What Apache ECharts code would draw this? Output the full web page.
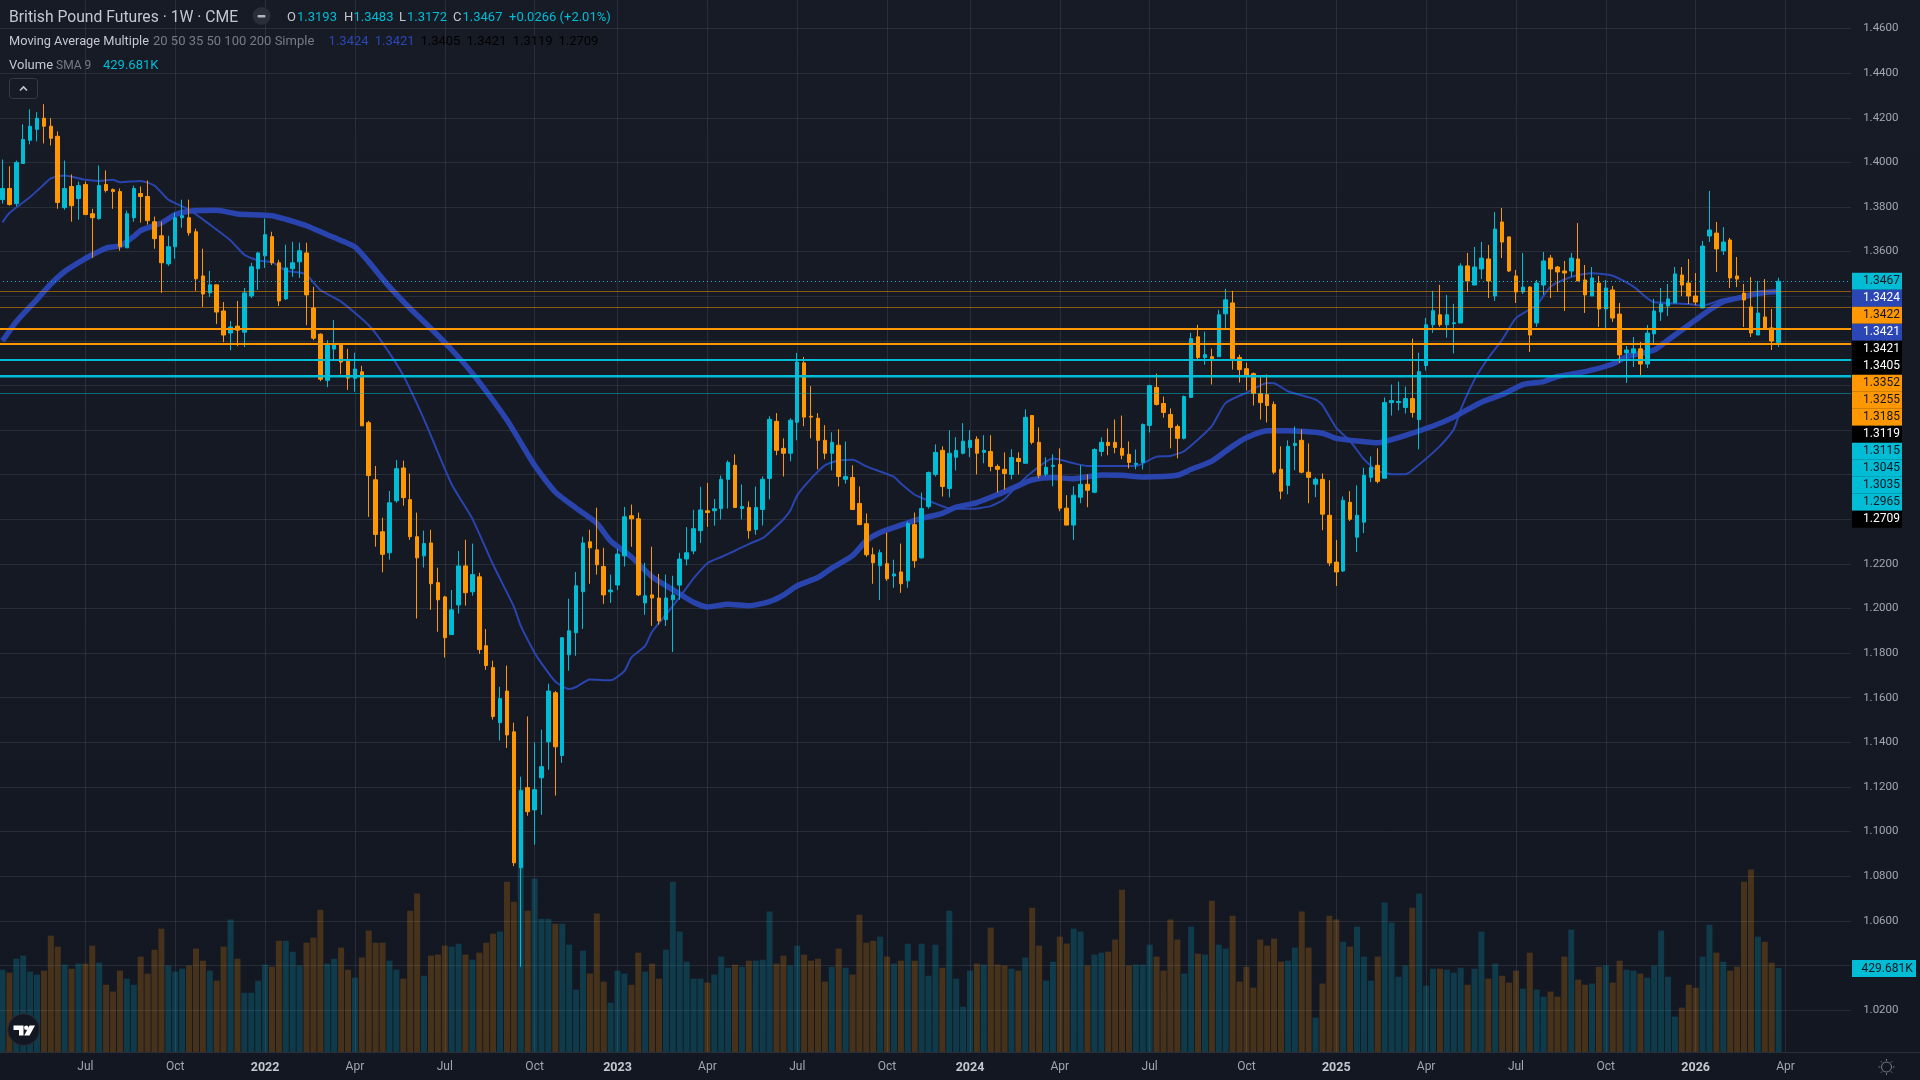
<!DOCTYPE html>
<html>
<head>
<meta charset="utf-8">
<title>British Pound Futures 1W</title>
<script src="https://cdn.jsdelivr.net/npm/echarts@6/dist/echarts.min.js"></script>
<style>html,body{margin:0;padding:0;background:#131722;overflow:hidden}#chart{width:1921px;height:1080px;margin-left:-1px}</style>
</head>
<body>
<div id="chart"></div>
<script>
// Weekly bars: [open, close, low, high]
const candles = [
[1.3833,1.3883,1.3815,1.4013],[1.3883,1.3811,1.3806,1.3982],[1.3815,1.4000,1.3803,1.4008],[1.3995,1.4103,1.3995,1.4171],[1.4099,1.4162,1.4081,1.4238],[1.4148,1.4198,1.4094,1.4225],[1.4198,1.4162,1.4085,1.4261],[1.4162,1.4108,1.4076,1.4198],[1.4117,1.3820,1.3792,1.4139],[1.3797,1.3883,1.3788,1.4008],
[1.3892,1.3806,1.3734,1.3946],[1.3838,1.3896,1.3743,1.3914],[1.3901,1.3766,1.3766,1.3914],[1.3770,1.3752,1.3572,1.3792],[1.3748,1.3896,1.3743,1.3986],[1.3901,1.3874,1.3865,1.3964],[1.3878,1.3869,1.3792,1.3883],[1.3869,1.3622,1.3604,1.3883],[1.3617,1.3770,1.3617,1.3784],[1.3752,1.3883,1.3734,1.3896],
[1.3860,1.3847,1.3730,1.3892],[1.3847,1.3739,1.3721,1.3919],[1.3734,1.3658,1.3613,1.3757],[1.3671,1.3550,1.3415,1.3734],[1.3545,1.3622,1.3536,1.3671],[1.3622,1.3752,1.3568,1.3775],[1.3752,1.3761,1.3707,1.3833],[1.3752,1.3684,1.3671,1.3833],[1.3689,1.3478,1.3424,1.3703],[1.3491,1.3410,1.3352,1.3613],
[1.3415,1.3451,1.3397,1.3514],[1.3451,1.3329,1.3275,1.3451],[1.3334,1.3226,1.3194,1.3374],[1.3235,1.3262,1.3158,1.3289],[1.3266,1.3248,1.3176,1.3379],[1.3239,1.3415,1.3172,1.3437],[1.3401,1.3532,1.3392,1.3550],[1.3523,1.3594,1.3428,1.3599],[1.3581,1.3676,1.3527,1.3748],[1.3667,1.3550,1.3540,1.3689],
[1.3550,1.3379,1.3356,1.3563],[1.3388,1.3527,1.3383,1.3631],[1.3523,1.3550,1.3487,1.3644],[1.3554,1.3604,1.3482,1.3640],[1.3594,1.3406,1.3270,1.3640],[1.3347,1.3212,1.3203,1.3442],[1.3230,1.3028,1.3019,1.3234],[1.3023,1.3181,1.2992,1.3203],[1.3163,1.3181,1.3113,1.3293],[1.3184,1.3105,1.3050,1.3190],
[1.3109,1.3033,1.2980,1.3164],[1.3032,1.3074,1.2972,1.3147],[1.3061,1.2819,1.2819,1.3088],[1.2833,1.2596,1.2411,1.2841],[1.2577,1.2332,1.2277,1.2639],[1.2344,1.2243,1.2162,1.2407],[1.2250,1.2474,1.2219,1.2527],[1.2483,1.2627,1.2474,1.2666],[1.2630,1.2497,1.2461,1.2663],[1.2488,1.2322,1.2308,1.2605],
[1.2322,1.2227,1.1955,1.2430],[1.2236,1.2291,1.2184,1.2349],[1.2294,1.2111,1.1994,1.2353],[1.2116,1.2039,1.1896,1.2183],[1.2052,1.1869,1.1780,1.2057],[1.1883,1.1994,1.1883,1.2083],[1.2016,1.2191,1.1977,1.2258],[1.2191,1.2071,1.2013,1.2308],[1.2075,1.2152,1.2057,1.2291],[1.2142,1.1816,1.1797,1.2160],
[1.1833,1.1744,1.1725,1.1908],[1.1735,1.1516,1.1502,1.1766],[1.1488,1.1596,1.1408,1.1649],[1.1630,1.1433,1.1375,1.1744],[1.1447,1.0860,1.0845,1.1488],[1.0838,1.1183,1.0394,1.1246],[1.1197,1.1089,1.1071,1.1516],[1.1097,1.1188,1.0941,1.1399],[1.1241,1.1291,1.1075,1.1457],[1.1402,1.1630,1.1277,1.1663],
[1.1622,1.1380,1.1161,1.1630],[1.1341,1.1869,1.1308,1.1871],[1.1793,1.1900,1.1721,1.2044],[1.1891,1.2102,1.1788,1.2164],[1.2075,1.2294,1.1908,1.2322],[1.2299,1.2272,1.2111,1.2353],[1.2263,1.2196,1.2152,1.2452],[1.2188,1.2061,1.2021,1.2272],[1.2075,1.2083,1.2025,1.2152],[1.2105,1.2244,1.2083,1.2268],
[1.2236,1.2411,1.2188,1.2455],[1.2416,1.2402,1.2277,1.2466],[1.2402,1.2061,1.2056,1.2430],[1.2025,1.2057,1.1972,1.2205],[1.2061,1.2047,1.1922,1.2277],[1.2047,1.1944,1.1927,1.2155],[1.1950,1.2047,1.1922,1.2152],[1.2039,1.2061,1.1805,1.2147],[1.2105,1.2222,1.2039,1.2250],[1.2222,1.2250,1.2193,1.2365],
[1.2258,1.2358,1.2243,1.2442],[1.2349,1.2442,1.2294,1.2546],[1.2438,1.2430,1.2366,1.2563],[1.2438,1.2447,1.2371,1.2491],[1.2448,1.2579,1.2399,1.2596],[1.2579,1.2655,1.2448,1.2664],[1.2642,1.2453,1.2453,1.2691],[1.2448,1.2457,1.2399,1.2556],[1.2453,1.2349,1.2313,1.2480],[1.2354,1.2453,1.2331,1.2547],
[1.2444,1.2579,1.2372,1.2592],[1.2583,1.2848,1.2489,1.2862],[1.2839,1.2709,1.2687,1.2876],[1.2718,1.2696,1.2592,1.2763],[1.2696,1.2844,1.2660,1.2853],[1.2835,1.3105,1.2754,1.3146],[1.3101,1.2858,1.2817,1.3128],[1.2862,1.2858,1.2763,1.2997],[1.2853,1.2754,1.2624,1.2876],[1.2754,1.2696,1.2669,1.2822],
[1.2696,1.2745,1.2619,1.2790],[1.2732,1.2592,1.2547,1.2804],[1.2579,1.2592,1.2560,1.2749],[1.2587,1.2444,1.2444,1.2642],[1.2471,1.2376,1.2376,1.2547],[1.2380,1.2241,1.2232,1.2426],[1.2241,1.2205,1.2111,1.2273],[1.2192,1.2250,1.2038,1.2264],[1.2201,1.2133,1.2124,1.2340],[1.2146,1.2155,1.2093,1.2219],
[1.2164,1.2111,1.2070,1.2291],[1.2124,1.2381,1.2093,1.2389],[1.2376,1.2214,1.2183,1.2430],[1.2227,1.2448,1.2223,1.2520],[1.2457,1.2610,1.2448,1.2614],[1.2601,1.2700,1.2592,1.2736],[1.2709,1.2547,1.2502,1.2727],[1.2538,1.2696,1.2498,1.2799],[1.2678,1.2709,1.2619,1.2768],[1.2696,1.2750,1.2691,1.2831],
[1.2722,1.2754,1.2678,1.2799],[1.2759,1.2696,1.2601,1.2772],[1.2700,1.2709,1.2651,1.2777],[1.2704,1.2637,1.2615,1.2777],[1.2637,1.2624,1.2520,1.2646],[1.2624,1.2605,1.2533,1.2700],[1.2601,1.2677,1.2579,1.2714],[1.2673,1.2659,1.2601,1.2700],[1.2651,1.2857,1.2651,1.2893],[1.2865,1.2745,1.2736,1.2868],
[1.2745,1.2597,1.2584,1.2812],[1.2602,1.2633,1.2593,1.2678],[1.2637,1.2642,1.2548,1.2691],[1.2646,1.2450,1.2436,1.2718],[1.2450,1.2374,1.2374,1.2508],[1.2374,1.2508,1.2307,1.2548],[1.2499,1.2557,1.2472,1.2642],[1.2557,1.2530,1.2454,1.2602],[1.2521,1.2713,1.2517,1.2718],[1.2704,1.2745,1.2682,1.2767],
[1.2745,1.2731,1.2687,1.2807],[1.2745,1.2722,1.2696,1.2847],[1.2718,1.2687,1.2669,1.2865],[1.2691,1.2655,1.2628,1.2749],[1.2646,1.2651,1.2624,1.2713],[1.2655,1.2825,1.2624,1.2830],[1.2821,1.3000,1.2789,1.3003],[1.2991,1.2915,1.2910,1.3053],[1.2919,1.2879,1.2856,1.2950],[1.2870,1.2812,1.2718,1.2897],
[1.2816,1.2763,1.2673,1.2825],[1.2763,1.2950,1.2758,1.2955],[1.2946,1.3210,1.2946,1.3236],[1.3218,1.3125,1.3116,1.3272],[1.3125,1.3138,1.3093,1.3241],[1.3129,1.3120,1.3004,1.3165],[1.3129,1.3317,1.3129,1.3339],[1.3321,1.3384,1.3250,1.3433],[1.3370,1.3120,1.3071,1.3424],[1.3125,1.3071,1.3013,1.3138],
[1.3075,1.3044,1.2977,1.3102],[1.3053,1.2964,1.2910,1.3058],[1.2964,1.2923,1.2847,1.3044],[1.2959,1.2910,1.2834,1.3049],[1.2915,1.2611,1.2602,1.2928],[1.2624,1.2526,1.2490,1.2727],[1.2552,1.2727,1.2512,1.2754],[1.2731,1.2740,1.2620,1.2816],[1.2754,1.2611,1.2606,1.2803],[1.2611,1.2588,1.2472,1.2740],
[1.2557,1.2579,1.2499,1.2588],[1.2579,1.2423,1.2351,1.2606],[1.2418,1.2204,1.2190,1.2575],[1.2208,1.2164,1.2101,1.2307],[1.2168,1.2485,1.2164,1.2502],[1.2476,1.2400,1.2392,1.2526],[1.2320,1.2418,1.2253,1.2552],[1.2387,1.2597,1.2338,1.2631],[1.2588,1.2633,1.2566,1.2682],[1.2642,1.2570,1.2561,1.2718],
[1.2584,1.2923,1.2584,1.2946],[1.2923,1.2932,1.2865,1.3004],[1.2923,1.2928,1.2888,1.3017],[1.2901,1.2941,1.2874,1.2995],[1.2941,1.2879,1.2856,1.3210],[1.2847,1.3062,1.2713,1.3147],[1.3089,1.3272,1.3067,1.3303],[1.3272,1.3335,1.3236,1.3424],[1.3317,1.3272,1.3263,1.3451],[1.3272,1.3317,1.3214,1.3406],
[1.3277,1.3281,1.3143,1.3366],[1.3280,1.3536,1.3280,1.3548],[1.3536,1.3468,1.3420,1.3594],[1.3450,1.3531,1.3450,1.3621],[1.3522,1.3571,1.3477,1.3643],[1.3567,1.3468,1.3392,1.3630],[1.3401,1.3701,1.3379,1.3778],[1.3733,1.3643,1.3571,1.3796],[1.3666,1.3513,1.3509,1.3667],[1.3491,1.3419,1.3370,1.3518],
[1.3419,1.3441,1.3410,1.3594],[1.3441,1.3226,1.3150,1.3445],[1.3280,1.3459,1.3262,1.3473],[1.3450,1.3558,1.3406,1.3598],[1.3571,1.3522,1.3392,1.3585],[1.3531,1.3509,1.3419,1.3536],[1.3513,1.3504,1.3334,1.3558],[1.3513,1.3571,1.3486,1.3594],[1.3567,1.3468,1.3468,1.3728],[1.3473,1.3406,1.3325,1.3540],
[1.3401,1.3482,1.3401,1.3531],[1.3459,1.3343,1.3262,1.3491],[1.3343,1.3437,1.3249,1.3473],[1.3428,1.3302,1.3285,1.3446],[1.3320,1.3137,1.3101,1.3370],[1.3146,1.3159,1.3011,1.3177],[1.3146,1.3164,1.3083,1.3217],[1.3164,1.3096,1.3038,1.3195],[1.3096,1.3235,1.3078,1.3271],[1.3231,1.3334,1.3181,1.3388],
[1.3329,1.3365,1.3289,1.3437],[1.3356,1.3388,1.3311,1.3455],[1.3370,1.3500,1.3370,1.3531],[1.3495,1.3450,1.3401,1.3531],[1.3459,1.3401,1.3365,1.3567],[1.3401,1.3374,1.3361,1.3504],[1.3347,1.3625,1.3347,1.3648],[1.3670,1.3697,1.3643,1.3872],[1.3683,1.3612,1.3509,1.3733],[1.3603,1.3643,1.3585,1.3710],
[1.3652,1.3482,1.3437,1.3661],[1.3491,1.3477,1.3441,1.3576],[1.3414,1.3383,1.3262,1.3455],[1.3352,1.3235,1.3217,1.3486],[1.3226,1.3325,1.3226,1.3468],[1.3307,1.3258,1.3258,1.3477],[1.3258,1.3199,1.3159,1.3343],[1.3193,1.3467,1.3172,1.3483]
];

// Weekly traded contracts, in thousands
const volumeK = [
421,406,477,493,411,396,416,595,539,447,426,452,452,544,457,344,309,416,375,344,488,401,523,631,442,411,426,442,529,467,416,365,539,677,477,303,303,365,447,436,569,569,513,442,559,585,728,452,477,534,421,380,483,621,559,559,467,421,375,723,810,390,493,498,544,539,554,498,472,508,559,605,616,871,769,1345,723,887,682,682,656,656,549,319,518,401,708,360,252,416,401,344,508,
411,452,375,523,871,616,462,375,375,355,396,488,431,447,436,467,467,472,718,452,493,442,544,498,467,477,360,436,529,431,396,702,559,569,590,488,452,467,554,467,554,390,549,431,723,375,232,416,452,447,636,447,442,426,416,483,738,544,365,462,590,554,631,616,442,498,508,513,575,830,442,447,447,549,488,416,677,575,401,641,503,498,774,549,529,697,360,436,329,575,544,580,462,
467,534,718,534,176,350,697,677,564,539,641,488,365,488,764,662,385,442,738,810,339,426,426,421,406,431,344,426,616,375,452,390,355,416,324,508,319,283,309,283,488,626,370,344,350,436,442,355,467,421,416,401,380,442,621,385,181,227,344,329,488,651,508,462,416,436,871,933,590,564,457,429.681
];

// Moving averages as [bar, value]
const fastMa = [
[0,1.3731],[1,1.3773],[4,1.3845],[6,1.3901],[7,1.3928],[9,1.3941],[12,1.3922],[14,1.3917],[16,1.3922],[17,1.3911],[20,1.3917],[22,1.3896],[24,1.3833],[27,1.3788],[30,1.3721],[33,1.3650],[35,1.3586],[37,1.3560],[39,1.3553],[41,1.3515],[43,1.3506],[44,1.3496],[46,1.3428],[49,1.3376],[53,1.3270],[55,1.3191],[58,1.3045],[61,1.2848],[65,1.2557],[68,1.2402],[71,1.2196],[74,1.2008],[75,1.1922],[77,1.1802],[78,1.1754],[80,1.1673],[82,1.1639],[83,1.1648],[85,1.1682],[88,1.1678],[90,1.1720],[91,1.1780],[93,1.1833],[94,1.1896],[97,1.2011],[99,1.2093],[100,1.2135],[102,1.2203],[104,1.2231],[106,1.2259],[108,1.2289],[110,1.2316],[111,1.2341],[113,1.2400],[114,1.2439],[115,1.2507],[117,1.2582],[119,1.2642],[121,1.2664],[123,1.2667],[125,1.2637],[129,1.2590],[130,1.2560],[132,1.2510],[134,1.2484],[137,1.2449],[140,1.2447],[143,1.2459],[145,1.2491],[147,1.2556],[149,1.2612],[152,1.2672],[155,1.2651],[157,1.2639],[164,1.2639],[167,1.2681],[169,1.2684],[171,1.2706],[173,1.2758],[175,1.2818],[177,1.2922],[180,1.2967],[183,1.3011],[184,1.3010],[186,1.2974],[190,1.2937],[191,1.2912],[193,1.2810],[195,1.2751],[197,1.2669],[199,1.2617],[201,1.2602],[203,1.2602],[204,1.2620],[208,1.2728],[210,1.2803],[211,1.2892],[213,1.3026],[215,1.3123],[217,1.3205],[219,1.3302],[222,1.3361],[224,1.3443],[226,1.3475],[228,1.3495],[230,1.3503],[233,1.3492],[236,1.3443],[238,1.3391],[239,1.3373],[244,1.3365],[246,1.3358],[249,1.3386],[252,1.3395],[255,1.3410],[257,1.3424]
];
const slowMa = [
[0,1.3200],[2,1.3286],[5,1.3386],[7,1.3455],[9,1.3511],[11,1.3551],[13,1.3586],[15,1.3616],[17,1.3626],[19,1.3668],[20,1.3695],[23,1.3728],[25,1.3766],[27,1.3781],[31,1.3785],[34,1.3769],[39,1.3761],[42,1.3736],[44,1.3716],[47,1.3676],[49,1.3650],[51,1.3621],[53,1.3554],[56,1.3442],[59,1.3345],[62,1.3255],[65,1.3160],[68,1.3054],[73,1.2845],[77,1.2642],[80,1.2522],[83,1.2450],[86,1.2382],[88,1.2303],[91,1.2231],[94,1.2142],[97,1.2085],[100,1.2028],[102,1.2007],[105,1.2019],[108,1.2012],[111,1.2031],[113,1.2060],[115,1.2102],[118,1.2139],[120,1.2181],[123,1.2237],[125,1.2304],[127,1.2341],[130,1.2374],[133,1.2404],[136,1.2427],[138,1.2454],[141,1.2475],[144,1.2511],[147,1.2551],[149,1.2577],[152,1.2587],[155,1.2582],[159,1.2599],[162,1.2597],[165,1.2590],[170,1.2597],[172,1.2624],[175,1.2661],[178,1.2728],[180,1.2766],[183,1.2797],[186,1.2797],[191,1.2786],[193,1.2763],[196,1.2751],[199,1.2743],[202,1.2766],[207,1.2818],[210,1.2858],[214,1.2925],[217,1.2959],[220,1.3004],[223,1.3017],[225,1.3040],[229,1.3062],[233,1.3096],[235,1.3129],[239,1.3159],[241,1.3204],[243,1.3249],[245,1.3294],[247,1.3338],[249,1.3376],[252,1.3398],[254,1.3413],[257,1.3421]
];

// Horizontal price levels
const lastClose = 1.3467;
const thinOrangeLevels = [1.3422, 1.3352];
const thickOrangeLevels = [1.3255, 1.3185];
const thickCyanLevels = [1.3115, 1.3045];
const thinCyanLevels = [1.3035, 1.2965];

// Time axis ticks: the bar each label sits on, and its text
const timeTickBars = [12,25,38,51,64,77,89,102,115,128,140,153,166,180,193,206,219,232,245,258];
const timeTickLabels = ['Jul','Oct','2022','Apr','Jul','Oct','2023','Apr','Jul','Oct','2024','Apr','Jul','Oct','2025','Apr','Jul','Oct','2026','Apr'];

// Stacked price tags in the scale gutter
const tagTexts = ['1.3467','1.3424','1.3422','1.3421','1.3421','1.3405','1.3352','1.3255','1.3185','1.3119','1.3115','1.3045','1.3035','1.2965','1.2709'];
const tagKinds = ['cyan','blue','orange','blue','black','black','orange','orange','orange','black','cyan','cyan','cyan','cyan','black'];

const CYAN = '#00bcd4', ORANGE = '#ff9800', BLUE = '#2b47b6', DARK = '#131722';
const FONT = 'Roboto, sans-serif';
const BAR_STEP = 6.911, SLOTS = 268;

const tickTextOfBar = {};
timeTickBars.forEach((b, k) => { tickTextOfBar[b] = timeTickLabels[k]; });
const slotNames = Array.from({ length: SLOTS }, (_, i) => String(i));
const isTick = (i) => tickTextOfBar[i] !== undefined;

const volumeBars = volumeK.map((v, i) => ({
  value: v,
  itemStyle: { color: candles[i] && candles[i][1] >= candles[i][0] ? 'rgba(0,188,212,0.22)' : 'rgba(255,152,0,0.22)' }
}));

const levelLine = (values, color, width, type) => values.map((v) => ({
  yAxis: v, lineStyle: { color, width, type: type || 'solid' }
}));

const tagFill = { cyan: CYAN, blue: BLUE, orange: ORANGE, black: '#000000' };
const tagInk = { cyan: DARK, blue: '#ffffff', orange: DARK, black: '#ffffff' };
const tagGraphics = [];
tagTexts.forEach((t, k) => {
  const cy = 281.3 + k * 17;
  tagGraphics.push({ type: 'rect', z: 60, shape: { x: 1852, y: cy - 8.5, width: 50, height: 17 }, style: { fill: tagFill[tagKinds[k]] } });
  tagGraphics.push({ type: 'text', z: 61, x: 1863, y: cy, style: { text: t, fill: tagInk[tagKinds[k]], font: '12px ' + FONT, textBaseline: 'middle', verticalAlign: 'middle' } });
});

const label = (x, y, text, fill, size) => ({
  type: 'text', z: 70, x, y,
  style: { text, fill, font: (size || 13) + 'px ' + FONT, textBaseline: 'middle', verticalAlign: 'middle' }
});

const TXT = '#c4c7cf', GREY = '#787b86', TOP = CYAN;
const legendGraphics = [
  label(9, 18, 'British Pound Futures · 1W · CME', TXT, 15.7),
  { type: 'circle', z: 69, shape: { cx: 261.6, cy: 16, r: 9 }, style: { fill: '#2a2e39' } },
  { type: 'rect', z: 70, shape: { x: 257.5, y: 15, width: 8, height: 2.5, r: 1 }, style: { fill: '#b2b5be' } },
  label(287, 17.5, 'O', TXT), label(297, 17.5, '1.3193', TOP),
  label(344, 17.5, 'H', TXT), label(353.5, 17.5, '1.3483', TOP),
  label(399, 17.5, 'L', TXT), label(407, 17.5, '1.3172', TOP),
  label(453, 17.5, 'C', TXT), label(462.5, 17.5, '1.3467', TOP),
  label(509, 17.5, '+0.0266 (+2.01%)', TOP),
  label(9, 41.5, 'Moving Average Multiple', TXT, 12.8),
  label(153, 41.5, '20 50 35 50 100 200 Simple', GREY),
  label(328.6, 41.5, '1.3424', BLUE), label(374.7, 41.5, '1.3421', BLUE),
  label(420.4, 41.5, '1.3405', '#000000'), label(466.5, 41.5, '1.3421', '#000000'),
  label(512.7, 41.5, '1.3119', '#000000'), label(558.4, 41.5, '1.2709', '#000000'),
  label(9, 65.5, 'Volume', TXT), label(56, 65.5, 'SMA 9', GREY, 12), label(103, 65.5, '429.681K', TOP),
  { type: 'rect', z: 69, shape: { x: 9.5, y: 78.5, width: 28, height: 20, r: 3 }, style: { fill: 'transparent', stroke: '#363a45', lineWidth: 1 } },
  { type: 'polyline', z: 70, shape: { points: [[20, 90.5], [23.5, 87], [27, 90.5]] }, style: { fill: 'none', stroke: '#c4c7cf', lineWidth: 1.6 } }
];

// Badge in the lower left and the theme icon in the lower right
const logoGraphics = [
  { type: 'circle', z: 70, shape: { cx: 23.7, cy: 1029.7, r: 16 }, style: { fill: '#131722', stroke: '#2a2e39', lineWidth: 1 } },
  { type: 'polygon', z: 71, shape: { points: [[13.5, 1025.5], [23.5, 1025.5], [23.5, 1035.5], [19, 1035.5], [19, 1030], [13.5, 1030]] }, style: { fill: '#ffffff' } },
  { type: 'circle', z: 71, shape: { cx: 26.3, cy: 1027.8, r: 2.2 }, style: { fill: '#ffffff' } },
  { type: 'polygon', z: 71, shape: { points: [[29.5, 1025.5], [35, 1025.5], [29.5, 1035.5], [24.2, 1035.5]] }, style: { fill: '#ffffff' } }
];
const sunRays = [[0, -8, 0, -6.2], [5.7, -5.7, 4.4, -4.4], [8, 0, 6.2, 0], [5.7, 5.7, 4.4, 4.4], [0, 8, 0, 6.2], [-5.7, 5.7, -4.4, 4.4], [-8, 0, -6.2, 0], [-5.7, -5.7, -4.4, -4.4]];
const sunGraphics = [
  { type: 'circle', z: 70, shape: { cx: 1886.5, cy: 1067, r: 5 }, style: { fill: 'none', stroke: '#787b86', lineWidth: 1 } }
].concat(sunRays.map((r) => ({
  type: 'line', z: 70, shape: { x1: 1886.5 + r[0], y1: 1067 + r[1], x2: 1886.5 + r[2], y2: 1067 + r[3] }, style: { stroke: '#787b86', lineWidth: 1 }
})));

const chart = echarts.init(document.getElementById('chart'), null, { renderer: 'canvas' });
const PANE_W = BAR_STEP * SLOTS;
const gridColor = 'rgba(120,123,134,0.2)';
const xBase = {
  type: 'category', data: slotNames, boundaryGap: true,
  axisTick: { show: false }, axisLine: { show: false }, splitLine: { show: false }, axisLabel: { show: false }
};
chart.setOption({
  animation: false,
  backgroundColor: new echarts.graphic.LinearGradient(0, 0, 0, 1, [
    { offset: 0, color: '#171b26' }, { offset: 1, color: '#131722' }
  ]),
  grid: [
    { left: 0, top: 28.55, width: PANE_W, height: 1026.08 },
    { left: 0, top: 789, width: PANE_W, height: 263 },
    { left: 0, top: 0, width: PANE_W, height: 1052 }
  ],
  xAxis: [
    Object.assign({}, xBase, { gridIndex: 0 }),
    Object.assign({}, xBase, {
      gridIndex: 1,
      axisLabel: {
        show: true, interval: (i) => isTick(i), margin: 9, color: '#a3a6af', fontFamily: FONT, fontSize: 12,
        formatter: (v) => {
          const t = tickTextOfBar[v];
          if (t === undefined) return '';
          return /^\d/.test(t) ? '{y|' + t + '}' : t;
        },
        rich: { y: { color: '#c4c7cf', fontFamily: FONT, fontSize: 12.5, fontWeight: 'bold' } }
      }
    }),
    Object.assign({}, xBase, {
      gridIndex: 2,
      splitLine: { show: true, interval: (i) => isTick(i), alignWithLabel: true, lineStyle: { color: gridColor, width: 1 } }
    })
  ],
  yAxis: [
    {
      type: 'value', gridIndex: 0, position: 'right', min: 1.00, max: 1.46, interval: 0.02,
      axisLine: { show: false }, axisTick: { show: false },
      axisLabel: {
        margin: 12, color: '#a3a6af', fontFamily: FONT, fontSize: 11.5,
        formatter: (v) => v < 1.01 ? '' : v.toFixed(4)
      },
      splitLine: { show: true, showMinLine: false, lineStyle: { color: gridColor, width: 1 } }
    },
    {
      type: 'value', gridIndex: 1, min: 0, max: 1345,
      axisLine: { show: false }, axisTick: { show: false }, axisLabel: { show: false }, splitLine: { show: false }
    },
    {
      type: 'value', gridIndex: 2, min: 0, max: 1,
      axisLine: { show: false }, axisTick: { show: false }, axisLabel: { show: false }, splitLine: { show: false }
    }
  ],
  series: [
    { name: 'Volume', type: 'bar', xAxisIndex: 1, yAxisIndex: 1, data: volumeBars, barWidth: 6, z: 1, silent: true },
    { name: 'MA 20', type: 'line', xAxisIndex: 0, yAxisIndex: 0, data: fastMa, showSymbol: false, smooth: 0.2, z: 2, silent: true,
      lineStyle: { color: BLUE, width: 2, opacity: 0.95 } },
    { name: 'MA 50', type: 'line', xAxisIndex: 0, yAxisIndex: 0, data: slowMa, showSymbol: false, smooth: 0.2, z: 2, silent: true,
      lineStyle: { color: BLUE, width: 5.5, opacity: 0.95 } },
    { name: 'British Pound Futures', type: 'candlestick', xAxisIndex: 0, yAxisIndex: 0, data: candles, barWidth: 4, z: 3, silent: true,
      itemStyle: { color: CYAN, color0: ORANGE, borderColor: CYAN, borderColor0: ORANGE, borderWidth: 1 } },
    { name: 'Levels', type: 'line', xAxisIndex: 0, yAxisIndex: 0, data: [], z: 4, silent: true,
      markLine: {
        silent: true, symbol: 'none', precision: 4, label: { show: false }, animation: false,
        data: [].concat(
          levelLine([lastClose], CYAN, 1, [1, 3]),
          levelLine(thinOrangeLevels, 'rgba(255,152,0,0.5)', 1),
          levelLine(thickOrangeLevels, ORANGE, 2),
          levelLine(thickCyanLevels, CYAN, 2),
          levelLine(thinCyanLevels, 'rgba(0,188,212,0.5)', 1)
        )
      } }
  ],
  graphic: { elements: [{
    type: 'group', x: 1,
    children: [
      { type: 'line', z: 51, shape: { x1: -1, y1: 1052.5, x2: 1920, y2: 1052.5 }, style: { stroke: '#2a2e39', lineWidth: 1 } },
      { type: 'rect', z: 60, shape: { x: 1852, y: 960, width: 64, height: 17 }, style: { fill: CYAN } },
      { type: 'text', z: 61, x: 1861.5, y: 968.5, style: { text: '429.681K', fill: DARK, font: '12px ' + FONT, textBaseline: 'middle', verticalAlign: 'middle' } }
    ].concat(tagGraphics, legendGraphics, logoGraphics, sunGraphics)
  }] }
});
</script>
</body>
</html>
